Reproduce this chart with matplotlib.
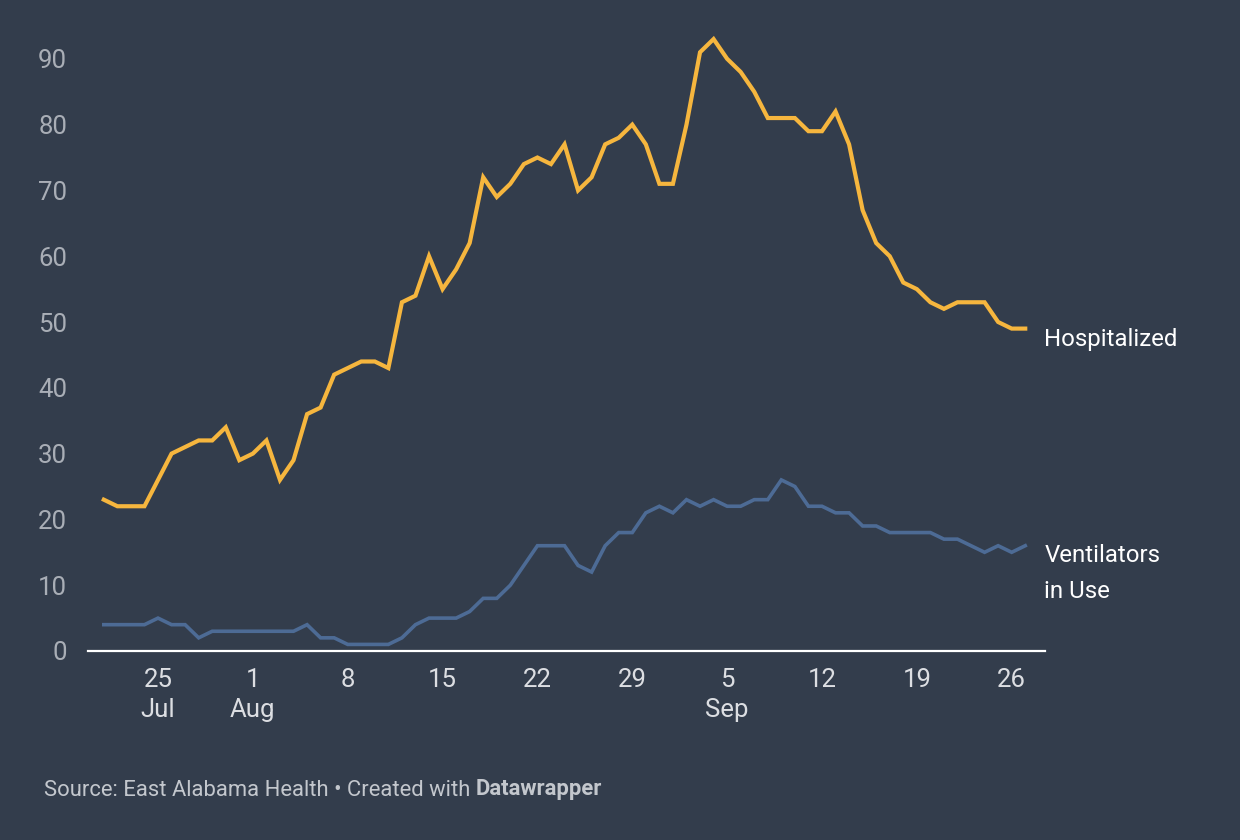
import matplotlib
matplotlib.use("Agg")
import matplotlib.pyplot as plt
import pandas as pd

# daily values, 21 Jul - 27 Sep
dates = pd.date_range("2020-07-21", "2020-09-27", freq="D")

hospitalized = [23, 22, 22, 22, 26, 30, 31, 32, 32, 34,
                29, 30, 32, 26, 29, 36, 37, 42, 43, 44,
                44, 43, 53, 54, 60, 55, 58, 62, 72, 69,
                71, 74, 75, 74, 77, 70, 72, 77, 78, 80,
                77, 71, 71, 80, 91, 93, 90, 88, 85, 81,
                81, 81, 79, 79, 82, 77, 67, 62, 60, 56,
                55, 53, 52, 53, 53, 53, 50, 49, 49]

ventilators = [4, 4, 4, 4, 5, 4, 4, 2, 3, 3,
               3, 3, 3, 3, 3, 4, 2, 2, 1, 1,
               1, 1, 2, 4, 5, 5, 5, 6, 8, 8,
               10, 13, 16, 16, 16, 13, 12, 16, 18, 18,
               21, 22, 21, 23, 22, 23, 22, 22, 23, 23,
               26, 25, 22, 22, 21, 21, 19, 19, 18, 18,
               18, 18, 17, 17, 16, 15, 16, 15, 16]

tick_dates = pd.to_datetime(["2020-07-25", "2020-08-01", "2020-08-08", "2020-08-15",
                             "2020-08-22", "2020-08-29", "2020-09-05", "2020-09-12",
                             "2020-09-19", "2020-09-26"])
tick_labels = ["25\nJul", "1\nAug", "8", "15", "22", "29", "5\nSep", "12", "19", "26"]
y_ticks = list(range(0, 91, 10))

bg = "#333d4c"
yellow = "#f6b63e"
blue = "#4d6b95"

plt.rcParams["font.family"] = ["Roboto", "DejaVu Sans"]

fig = plt.figure(figsize=(12.4, 8.4), dpi=100, facecolor=bg)
ax = fig.add_axes([88 / 1240, 189 / 840, 957 / 1240, 631 / 840])
ax.set_facecolor(bg)

ax.plot(dates, ventilators, color=blue, lw=2.6, solid_joinstyle="miter", zorder=3)
ax.plot(dates, hospitalized, color=yellow, lw=3, solid_joinstyle="miter", zorder=4)

ax.set_xlim(dates[0] - pd.Timedelta(hours=28), dates[-1] + pd.Timedelta(hours=35))
ax.set_ylim(0, 95.9)

for s in ["top", "right", "left"]:
    ax.spines[s].set_visible(False)
ax.spines["bottom"].set_color("white")
ax.spines["bottom"].set_linewidth(1.6)
ax.spines["bottom"].set_zorder(5)

ax.set_yticks(y_ticks)
ax.tick_params(axis="y", length=0, pad=15, labelsize=18.5, labelcolor="#a9aeb6")
ax.set_xticks(tick_dates)
ax.set_xticklabels(tick_labels, linespacing=1.3)
ax.tick_params(axis="x", length=0, pad=12.5, labelsize=18.5, labelcolor="#dcdee2")

# series labels at right end
ax.text(dates[-1] + pd.Timedelta(hours=34), 47.3, "Hospitalized", color="white",
        fontsize=17.3, va="center", ha="left", clip_on=False)
ax.text(dates[-1] + pd.Timedelta(hours=34), 11.8, "Ventilators\nin Use", color="white",
        fontsize=17.3, va="center", ha="left", linespacing=1.7, clip_on=False)

# footer
t1 = fig.text(44 / 1240, 1 - 790 / 840, "Source: East Alabama Health \u2022 Created with ",
              color="#c3c7cd", fontsize=15.8, va="center", ha="left")
ax.annotate("Datawrapper", xy=(1, 0), xycoords=t1, va="bottom", ha="left",
            color="#c3c7cd", fontsize=15.8, fontweight="bold", annotation_clip=False)

fig.savefig("out.png", dpi=100, facecolor=bg)
plt.close(fig)
